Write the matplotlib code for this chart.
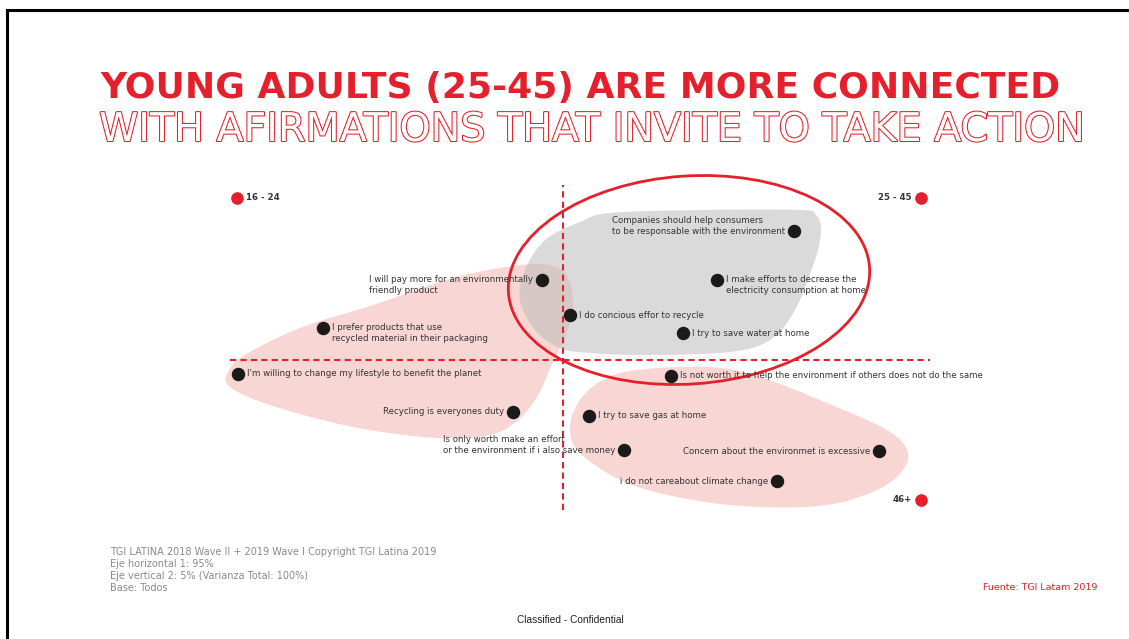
import numpy as np
import matplotlib
matplotlib.use("Agg")
import matplotlib.pyplot as plt
from matplotlib.patches import Ellipse
import matplotlib.patheffects as pe

RED = "#e3202b"
TXT = "#333333"

# ---- data (dimension 1 = horizontal, dimension 2 = vertical) ----
statements = [
    "Companies should help consumers\nto be responsable with the environment",
    "I will pay more for an environmentally\nfriendly product",
    "I make efforts to decrease the\nelectricity consumption at home",
    "I do concious effor to recycle",
    "I prefer products that use\nrecycled material in their packaging",
    "I try to save water at home",
    "I'm willing to change my lifestyle to benefit the planet",
    "Is not worth it to help the environment if others does not do the same",
    "Recycling is everyones duty",
    "I try to save gas at home",
    "Is only worth make an effort\nor the environment if i also save money",
    "Concern about the environmet is excessive",
    "i do not careabout climate change",
]
dim1 = [2.31, -0.21, 1.54, 0.07, -2.40, 1.20, -3.25, 1.08, -0.50, 0.26, 0.61, 3.16, 2.14]
dim2 = [1.29, 0.80, 0.80, 0.45, 0.32, 0.27, -0.14, -0.16, -0.52, -0.56, -0.90, -0.91, -1.21]
label_side = ["left", "left", "right", "right", "right", "right", "right",
              "right", "left", "right", "left", "left", "left"]

groups = ["16 - 24", "25 - 45", "46+"]
group_d1 = [-3.26, 3.58, 3.58]
group_d2 = [1.62, 1.62, -1.40]
group_side = ["right", "left", "left"]

# region outlines (decorative clusters)
gray_region = [(0.17, 1.38), (0.47, 1.47), (1.37, 1.50), (2.37, 1.50), (2.53, 1.45),
               (2.58, 1.30), (2.52, 1.00), (2.32, 0.50), (2.07, 0.20), (1.67, 0.08),
               (0.87, 0.05), (0.27, 0.07), (-0.03, 0.12), (-0.28, 0.30), (-0.43, 0.60),
               (-0.38, 0.90), (-0.18, 1.20)]
young_region = [(-3.33, -0.27), (-3.35, -0.12), (-3.18, 0.05), (-2.63, 0.32), (-1.90, 0.55),
                (-1.10, 0.82), (-0.43, 0.95), (-0.10, 0.94), (0.05, 0.82), (0.10, 0.55),
                (0.03, 0.25), (-0.10, -0.02), (-0.25, -0.35), (-0.45, -0.60), (-0.73, -0.75),
                (-1.26, -0.78), (-2.10, -0.67), (-2.93, -0.45)]
old_region = [(0.74, -0.10), (1.47, -0.07), (1.97, -0.17), (2.64, -0.43), (3.24, -0.70),
              (3.44, -0.90), (3.40, -1.10), (3.14, -1.30), (2.64, -1.45), (1.97, -1.47),
              (1.30, -1.40), (0.64, -1.23), (0.17, -0.93), (0.07, -0.67), (0.17, -0.40),
              (0.40, -0.20)]


def smooth_closed(pts, n=30):
    p = np.array(pts)
    m = len(p)
    out = []
    for i in range(m):
        p0, p1, p2, p3 = p[(i - 1) % m], p[i], p[(i + 1) % m], p[(i + 2) % m]
        t = np.linspace(0, 1, n, endpoint=False)[:, None]
        seg = 0.5 * ((2 * p1) + (-p0 + p2) * t + (2 * p0 - 5 * p1 + 4 * p2 - p3) * t ** 2
                     + (-p0 + 3 * p1 - 3 * p2 + p3) * t ** 3)
        out.append(seg)
    return np.vstack(out)


fig = plt.figure(figsize=(11.29, 6.39), dpi=100)
W, H = 1129, 639

# slide border
fig.add_artist(plt.Line2D([7 / W, 1], [1 - 10 / H, 1 - 10 / H], color="black", lw=2.2))
fig.add_artist(plt.Line2D([7 / W, 7 / W], [0, 1 - 10 / H], color="black", lw=2.2))

# titles
fig.text(580 / W, 1 - 88 / H, "YOUNG ADULTS (25-45) ARE MORE CONNECTED", ha="center", va="center",
         color=RED, fontsize=26, fontweight="bold", family="DejaVu Sans")
t2 = fig.text(592 / W, 1 - 130 / H, "WITH AFIRMATIONS THAT INVITE TO TAKE ACTION", ha="center",
              va="center", color="white", fontsize=28.5, family="DejaVu Sans")
t2.set_path_effects([pe.withStroke(linewidth=1.5, foreground=RED)])

# chart axes
ax = fig.add_axes([230 / W, 1 - 510 / H, 700 / W, 325 / H])
ax.set_xlim(-3.33, 3.67)
ax.set_ylim(-1.5, 1.75)
ax.axis("off")

for reg, col, a in [(young_region, "#f6cfcc", 0.85), (old_region, "#f6cfcc", 0.85),
                    (gray_region, "#bdbdbd", 0.55)]:
    sm = smooth_closed(reg)
    ax.fill(sm[:, 0], sm[:, 1], color=col, alpha=a, lw=0, zorder=1, clip_on=False)

ax.add_patch(Ellipse((1.26, 0.80), 3.62, 2.08, angle=4, fill=False, ec=RED, lw=2.0,
                     zorder=3, clip_on=False))

ax.axvline(0, color=RED, lw=1.5, ls=(0, (3, 2)), zorder=2)
ax.axhline(0, color=RED, lw=1.5, ls=(0, (3, 2)), zorder=2)

ax.scatter(dim1, dim2, s=75, color="#1a1a1a", zorder=5, clip_on=False)
for s, x, y, side in zip(statements, dim1, dim2, label_side):
    two = "\n" in s
    if side == "right":
        dx, ha = 9, "left"
    else:
        dx, ha = -9, "right"
    if two:
        dy = 5 if s.startswith(("Companies", "Is only")) else -5
    else:
        dy = 0
    ax.annotate(s, (x, y), xytext=(dx, dy), textcoords="offset pixels", ha=ha, va="center",
                multialignment="left", fontsize=6.2, color=TXT, zorder=6,
                linespacing=1.15, annotation_clip=False)

ax.scatter(group_d1, group_d2, s=65, color=RED, zorder=5, clip_on=False)
for g, x, y, side in zip(groups, group_d1, group_d2, group_side):
    dx, ha = (9, "left") if side == "right" else (-9, "right")
    ax.annotate(g, (x, y), xytext=(dx, 0), textcoords="offset pixels", ha=ha, va="center",
                fontsize=6.2, fontweight="bold", color=TXT, annotation_clip=False)

# footnotes
foot = ["TGI LATINA 2018 Wave II + 2019 Wave I Copyright TGI Latina 2019",
        "Eje horizontal 1: 95%",
        "Eje vertical 2: 5% (Varianza Total: 100%)",
        "Base: Todos"]
for i, line in enumerate(foot):
    fig.text(110 / W, 1 - (552 + i * 12) / H, line, ha="left", va="center",
             fontsize=7.0, color="#8a8a8a")
fig.text(1097 / W, 1 - 588 / H, "Fuente: TGI Latam 2019", ha="right", va="center",
         fontsize=6.8, color=RED)
fig.text(570 / W, 1 - 620 / H, "Classified - Confidential", ha="center", va="center",
         fontsize=7.3, color="#222222", family="Liberation Sans")

fig.savefig("out.png", dpi=100, facecolor="white")
